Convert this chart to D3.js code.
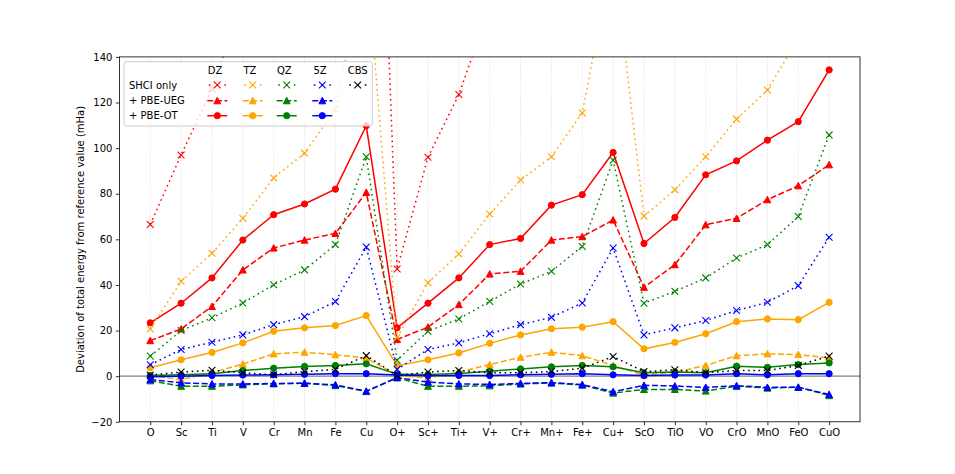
<!DOCTYPE html>
<html><head><meta charset="utf-8">
<script src="https://cdn.jsdelivr.net/npm/d3@7"></script>
<style>body{margin:0;background:#fff} text{font-family:"DejaVu Sans",sans-serif;font-size:10px;fill:#000}</style>
</head><body><svg id="c" width="955" height="474"></svg>
<script>
const categories = ["O","Sc","Ti","V","Cr","Mn","Fe","Cu","O+","Sc+","Ti+","V+","Cr+","Mn+","Fe+","Cu+","ScO","TiO","VO","CrO","MnO","FeO","CuO"];
const yTicks = [-20,0,20,40,60,80,100,120,140];
const bases = ["DZ","TZ","QZ","5Z","CBS"];
const methods = ["SHCI only","+ PBE-UEG","+ PBE-OT"];

const dzShci = [66.5,97,126,165,200,230,260,400,47,96,123.5,162,190,210,235,270,200,210,225,240,260,280,310];
const dzUeg  = [15.6,20.7,30.6,46.6,56.2,59.7,62.6,80.6,16.1,21.5,31.4,44.8,46,59.7,61.2,68.5,39,48.9,66.4,69.2,77.4,83.5,92.7];
const dzOt   = [23.4,32,43.1,59.7,70.8,75.5,82,109.8,21.2,32,43.1,57.7,60.4,75,79.6,98.1,58.2,69.6,88.3,94.4,103.5,111.6,134.3];
const tzShci = [20.7,41.6,53.9,69.2,86.9,97.8,117,185,17,41,53.6,71.1,86,96.2,115.4,186,70.2,81.7,96.2,112.7,125.5,148,170];
const tzUeg  = [0.2,-1.5,1.6,5.3,9.8,10.5,9.4,8,0.3,-0.8,1.8,5.1,8.3,10.5,9,4.7,0.5,1.7,4.7,9,9.8,9.5,8];
const tzOt   = [3.7,7.2,10.4,14.6,19.7,21.2,22.2,26.6,4.6,7.2,10.2,14.4,18.1,20.8,21.5,23.9,12,14.8,18.6,23.9,25.1,24.8,32.4];
const qzShci = [8.8,20,25.6,32.1,40.1,46.6,57.7,96.2,7,19.7,25.1,32.8,40.4,46,56.9,94.7,32,37.2,43.1,51.8,57.7,70,105.8];
const qzUeg  = [-2,-4.4,-4.4,-3.8,-3.3,-3.1,-4.1,-6.7,-0.7,-4.4,-4.4,-4.2,-3.4,-3,-3.9,-7.4,-5.8,-5.8,-6.5,-4.4,-5.2,-4.8,-8.5];
const qzOt   = [0.3,0.6,1.1,2.5,3.5,4.3,4.7,5.4,0.8,0.7,1.2,2.2,3.2,4.1,4.7,4.1,1.5,1.8,1.5,4.4,3.9,5.1,5.8];
const fzShci = [5,11.7,14.9,18.1,22.6,26.1,32.7,56.6,3,11.7,14.6,18.6,22.6,25.8,32.1,56.2,18.1,21.2,24.4,28.8,32.4,39.7,60.9];
const fzUeg  = [-1.5,-2.9,-3.4,-3.4,-3.2,-3.1,-3.8,-6.6,-0.6,-2.6,-3.4,-3.6,-3.2,-2.8,-3.7,-6.8,-4,-4.3,-4.9,-4.2,-4.9,-4.9,-8];
const fzOt   = [-0.3,0,0.3,0.5,0.6,0.8,1.1,1.1,0.5,0.2,0.3,0.3,0.6,0.8,1.1,0.6,0.3,0.5,0.5,1.1,0.6,1.1,1.1];
const cbsShci= [0.5,1.8,2.6,1.5,0.6,2,3,9,0.3,1.8,2.5,1.5,1.5,2,3.5,8.6,2,2.8,1.5,2.5,2.5,4.7,8.8];

const colors = {DZ:"red",TZ:"orange",QZ:"green","5Z":"blue",CBS:"black"};
const seriesTable = [
  {basis:"DZ", data:[dzShci,dzUeg,dzOt]},
  {basis:"TZ", data:[tzShci,tzUeg,tzOt]},
  {basis:"QZ", data:[qzShci,qzUeg,qzOt]},
  {basis:"5Z", data:[fzShci,fzUeg,fzOt]},
  {basis:"CBS", data:[cbsShci]}
];
const dashes = ["1.6,3.6","6,2.6",null];
const markerKind = ["x","tri","circ"];

const svg = d3.select("#c");
const L=119.4, R=860, T=56.9, B=421.8;
const x = d3.scaleLinear().domain([-1,23]).range([L,R]);
const y = d3.scaleLinear().domain([-20,140]).range([B,T]);

svg.append("defs").append("clipPath").attr("id","clip").append("rect")
  .attr("x",L).attr("y",T).attr("width",R-L).attr("height",B-T);

// grid
svg.append("g").selectAll("line").data(categories).join("line")
  .attr("x1",(d,i)=>x(i)).attr("x2",(d,i)=>x(i)).attr("y1",T).attr("y2",B)
  .attr("stroke","#cfcfcf").attr("stroke-width",0.8).attr("stroke-dasharray","1,1.8");

// zero line
svg.append("line").attr("x1",L).attr("x2",R).attr("y1",y(0)).attr("y2",y(0))
  .attr("stroke","#808080").attr("stroke-width",1.2);

function drawMarker(g, kind, color, cx, cy){
  if(kind==="x"){
    const s=3.4;
    g.append("path").attr("d",`M${cx-s},${cy-s}L${cx+s},${cy+s}M${cx-s},${cy+s}L${cx+s},${cy-s}`)
      .attr("stroke",color).attr("stroke-width",1.1).attr("fill","none");
  } else if(kind==="tri"){
    g.append("path").attr("d",`M${cx},${cy-3.4}L${cx-3.4},${cy+3.1}L${cx+3.4},${cy+3.1}Z`)
      .attr("fill",color).attr("stroke",color).attr("stroke-width",1);
  } else {
    g.append("circle").attr("cx",cx).attr("cy",cy).attr("r",3.1).attr("fill",color).attr("stroke",color).attr("stroke-width",1);
  }
}

const plot = svg.append("g").attr("clip-path","url(#clip)");
const line = d3.line().x((d,i)=>x(i)).y(d=>y(d));
seriesTable.forEach(s=>{
  const col = colors[s.basis];
  s.data.forEach((arr,m)=>{
    const g = plot.append("g");
    const p = g.append("path").datum(arr).attr("d",line).attr("fill","none")
      .attr("stroke",col).attr("stroke-width",1.5);
    if(dashes[m]) p.attr("stroke-dasharray",dashes[m]);
    arr.forEach((v,i)=>{ if(v<=150 && v>=-25) drawMarker(g, markerKind[m], col, x(i), y(v)); });
  });
});

// axes
const xAxis = d3.axisBottom(x).tickValues(d3.range(categories.length)).tickFormat(i=>categories[i]).tickSize(3.5).tickPadding(3.5);
const yAxis = d3.axisLeft(y).tickValues(yTicks).tickFormat(d=>d<0?"\u2212"+Math.abs(d):d).tickSize(3.5).tickPadding(3.5);
const gx = svg.append("g").attr("transform",`translate(0,${B})`).call(xAxis);
const gy = svg.append("g").attr("transform",`translate(${L},0)`).call(yAxis);
[gx,gy].forEach(g=>{
  g.select(".domain").remove();
  g.selectAll("line").attr("stroke","#000").attr("stroke-width",0.8);
  g.selectAll("text").attr("font-family","DejaVu Sans").attr("font-size",10).attr("fill","#000");
});
svg.append("rect").attr("x",L).attr("y",T).attr("width",R-L).attr("height",B-T)
  .attr("fill","none").attr("stroke","#000").attr("stroke-width",0.8);

svg.append("text").attr("transform",`translate(84,${(T+B)/2}) rotate(-90)`)
  .attr("text-anchor","middle").text("Deviation of total energy from reference value (mHa)");

// legend
const lg = svg.append("g");
lg.append("rect").attr("x",124).attr("y",61.7).attr("width",248.3).attr("height",64.3).attr("rx",2.5)
  .attr("fill","#fff").attr("fill-opacity",0.8).attr("stroke","#cccccc").attr("stroke-width",1);
const headX = [215,250,284.3,320,357.7];
const handleX = [207.3,242.7,276.7,312.3,347.7];
const rowY = [85,100.7,115.7];
bases.forEach((b,i)=>{
  lg.append("text").attr("x",headX[i]).attr("y",70.7+3.6).attr("text-anchor","middle").text(b);
});
methods.forEach((m,j)=>{
  lg.append("text").attr("x",129).attr("y",rowY[j]+3.6).text(m);
});
seriesTable.forEach((s,i)=>{
  const col = colors[s.basis];
  s.data.forEach((arr,m)=>{
    const g = lg.append("g");
    const l = g.append("line").attr("x1",handleX[i]).attr("x2",handleX[i]+20).attr("y1",rowY[m]).attr("y2",rowY[m])
      .attr("stroke",col).attr("stroke-width",1.5);
    if(m===0) l.attr("stroke-dasharray","1.6,6.2").attr("stroke-dashoffset",-1.5);
    else if(dashes[m]) l.attr("stroke-dasharray",dashes[m]);
    drawMarker(g, markerKind[m], col, handleX[i]+10, rowY[m]);
  });
});
</script></body></html>
